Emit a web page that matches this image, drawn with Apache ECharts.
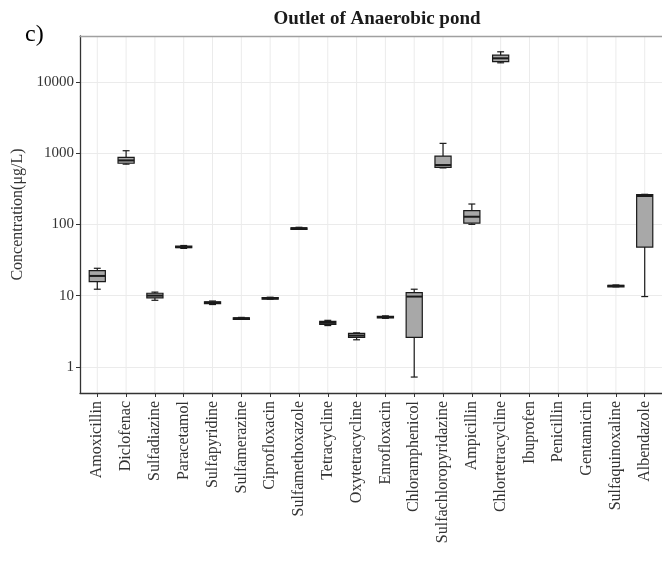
<!DOCTYPE html>
<html>
<head>
<meta charset="utf-8">
<script src="https://cdn.jsdelivr.net/npm/echarts@6/dist/echarts.min.js"></script>
<style>
html,body{margin:0;padding:0;background:#fff;}
#chart{width:662px;height:563px;}
</style>
</head>
<body>
<div id="chart"></div>
<script>
// ---- data ----
const categories = ["Amoxicillin","Diclofenac","Sulfadiazine","Paracetamol","Sulfapyridine","Sulfamerazine","Ciprofloxacin","Sulfamethoxazole","Tetracycline","Oxytetracycline","Enrofloxacin","Chloramphenicol","Sulfachloropyridazine","Ampicillin","Chlortetracycline","Ibuprofen","Penicillin","Gentamicin","Sulfaquinoxaline","Albendazole"];
const whiskerLow  = [12.3, 700, 8.6, 46, 7.5, 4.65, 8.9, 85, 3.8, 2.4, 4.8, 0.72, 620, 100, 18500, null, null, null, 13.3, 9.7];
const q1          = [15.7, 720, 9.3, 47, 7.7, 4.72, 9.05, 86.5, 3.95, 2.6, 4.9, 2.6, 630, 104, 19200, null, null, null, 13.5, 48];
const medians     = [18.9, 790, 10, 48, 8.0, 4.8, 9.2, 88, 4.15, 2.75, 5.0, 9.7, 680, 128, 21400, null, null, null, 13.7, 250];
const q3          = [22.4, 870, 10.8, 49.5, 8.2, 4.88, 9.35, 89.5, 4.35, 2.95, 5.1, 11, 910, 156, 23700, null, null, null, 13.9, 262];
const whiskerHigh = [24.2, 1080, 11.2, 50.5, 8.4, 4.95, 9.5, 91, 4.5, 3.0, 5.2, 12.3, 1370, 193, 26400, null, null, null, 14.1, 264];
const yTicks = [1, 10, 100, 1000, 10000];
const chartTitle = "Outlet of Anaerobic pond";
const panelTag = "c)";
const yName = "Concentration(μg/L)";

// ---- build series data ----
const boxData = [];
categories.forEach((c, i) => {
  if (medians[i] != null) boxData.push([i, whiskerLow[i], q1[i], medians[i], q3[i], whiskerHigh[i]]);
});
const catIdx = categories.map((c, i) => i);
const serif = "'Liberation Serif', 'DejaVu Serif', serif";
const yMin = 0.43, yMax = 44000;

const chart = echarts.init(document.getElementById('chart'), null, {renderer: 'canvas'});
chart.setOption({
  animation: false,
  backgroundColor: '#ffffff',
  title: [
    {text: chartTitle, left: 372, top: 5, textAlign: 'center',
     textStyle: {fontFamily: serif, fontSize: 19, fontWeight: 'bold', color: '#1a1a1a'}},
    {text: panelTag, left: 20, top: 18,
     textStyle: {fontFamily: serif, fontSize: 24, fontWeight: 'normal', color: '#000'}}
  ],
  grid: {left: 80, top: 36, width: 584, height: 357, show: false, containLabel: false},
  xAxis: [{
    type: 'value', min: -0.6, max: 19.6, position: 'bottom',
    axisLine: {show: true, onZero: false, lineStyle: {color: '#333', width: 1.3}},
    axisTick: {show: true, length: 4, customValues: catIdx, lineStyle: {color: '#333'}},
    axisLabel: {customValues: catIdx, rotate: 90, margin: 8, fontFamily: serif, fontSize: 16, color: '#333',
      formatter: v => categories[Math.round(v)] || ''},
    splitLine: {show: false}
  }, {
    type: 'value', min: -0.6, max: 19.6, position: 'top',
    axisLine: {show: true, onZero: false, lineStyle: {color: '#a0a0a0', width: 1.3}},
    axisTick: {show: false}, axisLabel: {show: false}, splitLine: {show: false}
  }],
  yAxis: {
    type: 'log', logBase: 10, min: yMin, max: yMax,
    name: yName, nameLocation: 'middle', nameGap: 53, nameRotate: 90,
    nameTextStyle: {fontFamily: serif, fontSize: 16, color: '#333'},
    axisLine: {show: true, onZero: false, lineStyle: {color: '#333', width: 1.3}},
    axisTick: {show: true, length: 4, lineStyle: {color: '#333'}},
    axisLabel: {showMinLabel: false, showMaxLabel: false, fontFamily: serif, fontSize: 15, color: '#333', margin: 6,
      formatter: v => (yTicks.indexOf(Math.round(v)) >= 0 ? String(Math.round(v)) : '')},
    splitLine: {show: true, lineStyle: {color: '#ebebeb', width: 1}},
    minorSplitLine: {show: false}
  },
  series: [
    {
      type: 'custom',
      name: 'vgrid',
      silent: true,
      z: 0,
      data: catIdx.map(i => [i]),
      renderItem: (params, api) => {
        const top = api.coord([api.value(0), yMax]);
        const bot = api.coord([api.value(0), yMin]);
        return {type: 'line', shape: {x1: top[0], y1: top[1], x2: bot[0], y2: bot[1]},
          style: {stroke: '#ebebeb', lineWidth: 1}};
      }
    },
    {
      type: 'custom',
      name: 'box',
      z: 2,
      data: boxData,
      renderItem: (params, api) => {
        const x = api.value(0);
        const lo = api.coord([x, api.value(1)]);
        const a = api.coord([x, api.value(2)]);
        const m = api.coord([x, api.value(3)]);
        const b = api.coord([x, api.value(4)]);
        const hi = api.coord([x, api.value(5)]);
        const unit = api.coord([1, 1])[0] - api.coord([0, 1])[0];
        const bw = unit * 0.56;
        const cw = unit * 0.24;
        const cx = lo[0];
        const st = {stroke: '#1a1a1a', lineWidth: 1.2};
        return {
          type: 'group',
          children: [
            {type: 'line', shape: {x1: cx, y1: b[1], x2: cx, y2: hi[1]}, style: st},
            {type: 'line', shape: {x1: cx, y1: a[1], x2: cx, y2: lo[1]}, style: st},
            {type: 'line', shape: {x1: cx - cw / 2, y1: hi[1], x2: cx + cw / 2, y2: hi[1]}, style: st},
            {type: 'line', shape: {x1: cx - cw / 2, y1: lo[1], x2: cx + cw / 2, y2: lo[1]}, style: st},
            {type: 'rect', shape: {x: cx - bw / 2, y: b[1], width: bw, height: Math.max(a[1] - b[1], 1.5)},
              style: {fill: '#a8a8a8', stroke: '#1a1a1a', lineWidth: 1.2}},
            {type: 'line', shape: {x1: cx - bw / 2, y1: m[1], x2: cx + bw / 2, y2: m[1]}, style: {stroke: '#1a1a1a', lineWidth: 2}}
          ]
        };
      }
    }
  ]
});
</script>
</body>
</html>
